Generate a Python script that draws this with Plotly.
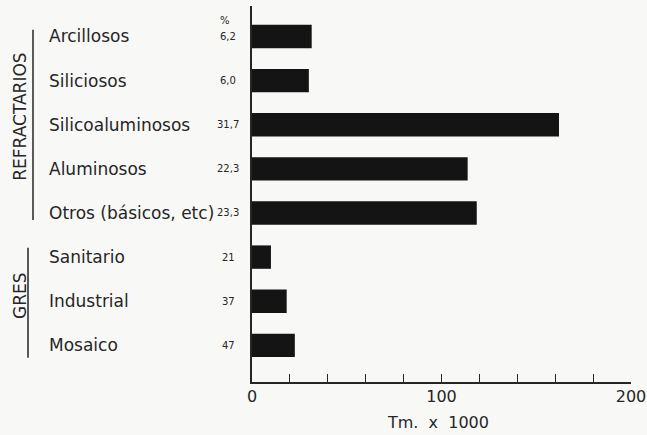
import plotly.graph_objects as go

categories = ["Arcillosos", "Siliciosos", "Silicoaluminosos", "Aluminosos",
              "Otros (básicos, etc)", "Sanitario", "Industrial", "Mosaico"]
values = [31.5, 30.0, 162.0, 113.8, 118.6, 10.0, 18.3, 22.6]
percent_labels = ["6,2", "6,0", "31,7", "22,3", "23,3", "21", "37", "47"]
groups = ["REFRACTARIOS", "GRES"]
tick_values = [0, 20, 40, 60, 80, 100, 120, 140, 160, 180, 200]
tick_labels = ["0", "", "", "", "", "100", "", "", "", "", "200"]

W, H = 647, 435
L, R, T, B = 252, 16, 6, 53
plot_w = W - L - R
plot_h = H - T - B

def px_x(px):
    return (px - L) / plot_w

INK = "#262626"
FONT = "DejaVu Sans"

fig = go.Figure(go.Bar(
    x=values, y=categories, orientation="h",
    marker=dict(color="#141414", line=dict(width=0)),
    width=0.53, hoverinfo="x+y",
))

ann = []
for c, p in zip(categories, percent_labels):
    ann.append(dict(x=px_x(47), xref="paper", y=c, yref="y", text=c,
                    xanchor="left", yanchor="middle", showarrow=False,
                    font=dict(size=17, color=INK, family=FONT)))
    ann.append(dict(x=px_x(228), xref="paper", y=c, yref="y", text=p,
                    xanchor="center", yanchor="middle", showarrow=False,
                    font=dict(size=10, color=INK, family=FONT)))
ann.append(dict(x=px_x(225), xref="paper", y=-0.37, yref="y", text="%",
                xanchor="center", yanchor="middle", showarrow=False,
                font=dict(size=10, color=INK, family=FONT)))

shapes = []
group_info = [(1.82, 20, 33, -0.15, 4.16), (5.88, 20, 28, 4.79, 7.28)]
for g, (yc, tx, lx, y0, y1) in zip(groups, group_info):
    ann.append(dict(x=px_x(tx), xref="paper", y=yc, yref="y", text=g,
                    textangle=-90, xanchor="center", yanchor="middle",
                    showarrow=False,
                    font=dict(size=17, color=INK, family=FONT)))
    shapes.append(dict(type="line", xref="paper", yref="y",
                       x0=px_x(lx), x1=px_x(lx), y0=y0, y1=y1,
                       line=dict(color=INK, width=1.5)))

ann.append(dict(x=px_x(438), xref="paper", y=-(422 - T - plot_h) / plot_h,
                yref="paper",
                text="Tm.  x  1000", xanchor="center", yanchor="middle",
                showarrow=False, font=dict(size=16, color=INK, family=FONT)))

fig.update_layout(
    width=W, height=H,
    margin=dict(l=L, r=R, t=T, b=B, autoexpand=False),
    paper_bgcolor="#f8f8f6", plot_bgcolor="#f8f8f6",
    showlegend=False,
    annotations=ann, shapes=shapes,
    xaxis=dict(range=[0, 200], tickvals=tick_values, ticktext=tick_labels,
               ticks="inside", ticklen=8, tickwidth=1.2, tickcolor=INK,
               showline=True, linecolor=INK, linewidth=1.5, automargin=False,
               showgrid=False, zeroline=False, ticklabelstandoff=-1,
               tickfont=dict(size=16, color=INK, family=FONT)),
    yaxis=dict(range=[7.83, -0.69], showline=True, linecolor=INK, linewidth=1.5,
               automargin=False,
               showticklabels=False, ticks="", showgrid=False, zeroline=False),
)

fig.write_html(
    "out.html",
    config={"displayModeBar": False},
    post_script="document.body.style.margin='0';document.body.style.overflow='hidden';",
)
